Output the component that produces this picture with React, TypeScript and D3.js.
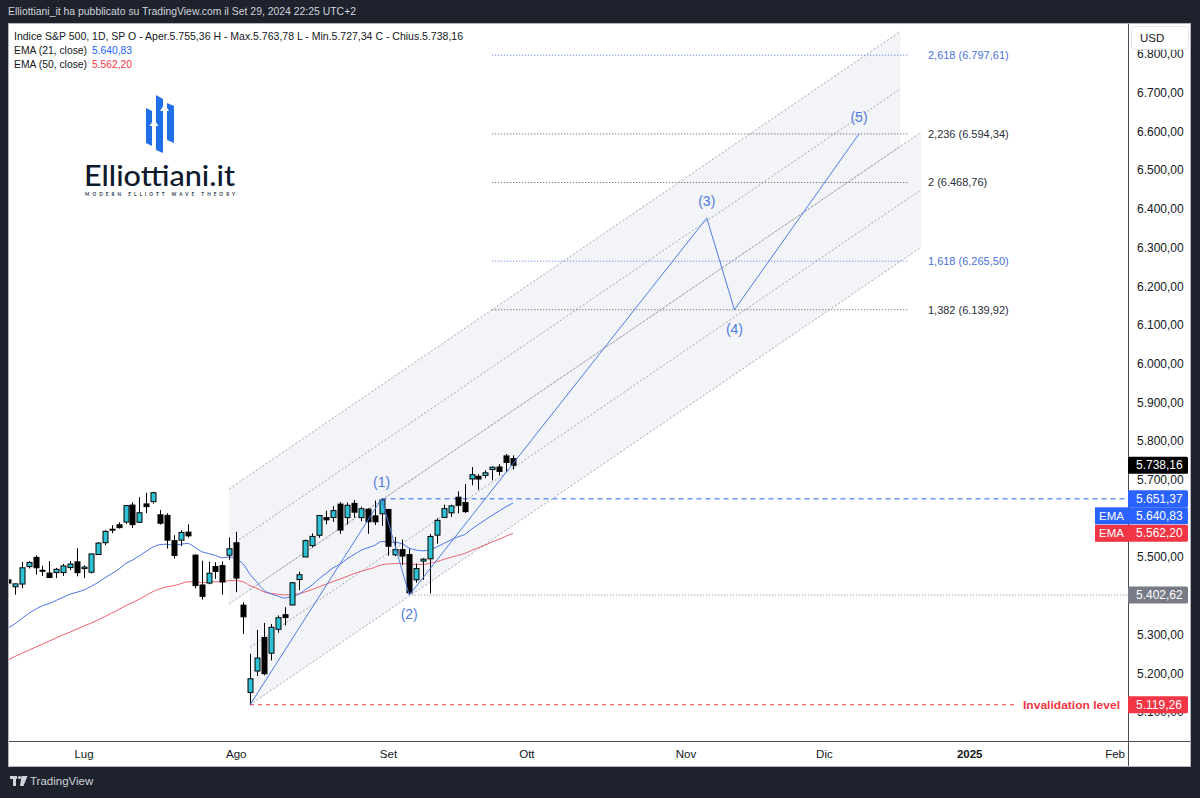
import React, { useMemo } from "react";
import * as d3 from "d3";

const W = 1200;
const H = 798;

// ---- Daily bars, S&P 500 index ----
const barDates = [
  "2024-06-13", "2024-06-14", "2024-06-17", "2024-06-18", "2024-06-20", "2024-06-21",
  "2024-06-24", "2024-06-25", "2024-06-26", "2024-06-27", "2024-06-28",
  "2024-07-01", "2024-07-02", "2024-07-03", "2024-07-05", "2024-07-08", "2024-07-09", "2024-07-10", "2024-07-11", "2024-07-12",
  "2024-07-15", "2024-07-16", "2024-07-17", "2024-07-18", "2024-07-19", "2024-07-22", "2024-07-23", "2024-07-24", "2024-07-25", "2024-07-26",
  "2024-07-29", "2024-07-30", "2024-07-31",
  "2024-08-01", "2024-08-02", "2024-08-05", "2024-08-06", "2024-08-07", "2024-08-08", "2024-08-09",
  "2024-08-12", "2024-08-13", "2024-08-14", "2024-08-15", "2024-08-16", "2024-08-19", "2024-08-20", "2024-08-21", "2024-08-22", "2024-08-23",
  "2024-08-26", "2024-08-27", "2024-08-28", "2024-08-29", "2024-08-30",
  "2024-09-03", "2024-09-04", "2024-09-05", "2024-09-06", "2024-09-09", "2024-09-10", "2024-09-11", "2024-09-12", "2024-09-13",
  "2024-09-16", "2024-09-17", "2024-09-18", "2024-09-19", "2024-09-20", "2024-09-23", "2024-09-24", "2024-09-25", "2024-09-26", "2024-09-27",
];

const opens = [
  5441.93, 5424.08, 5431.11, 5476.15, 5499.99, 5466.77, 5459.58, 5460.73, 5460.71, 5473.59, 5488.48,
  5471.08, 5461.84, 5507.44, 5537.91, 5572.75, 5584.24, 5591.26, 5635.21, 5590.76, 5638.16, 5644.09, 5610.07, 5608.56, 5543.37, 5544.54, 5565.3, 5505.84, 5428.7, 5433.67, 5476.55, 5478.73, 5505.59,
  5537.84, 5376.63, 5151.14, 5206.42, 5293.13, 5252.57, 5314.26, 5351.83, 5376.98, 5442.73, 5501.13, 5530.5, 5557.23, 5602.88, 5603.09, 5637.77, 5602.89, 5639.66, 5602.89, 5624.51, 5607.3, 5612.74,
  5623.89, 5506.68, 5520.08, 5507.33, 5442.07, 5490.51, 5496.42, 5557.48, 5603.34, 5615.21, 5655.51, 5641.68, 5702.63, 5709.58, 5711.9, 5727.05, 5733.65, 5762.22, 5755.36,
];
const highs = [
  5441.93, 5432.39, 5488.5, 5490.38, 5505.53, 5478.31, 5490.66, 5472.88, 5483.14, 5490.81, 5523.64,
  5479.55, 5509.69, 5539.27, 5570.33, 5583.11, 5590.75, 5635.39, 5642.45, 5655.56, 5666.94, 5669.67, 5622.49, 5614.05, 5557.5, 5570.36, 5585.34, 5508.04, 5491.59, 5488.66, 5487.74, 5489.46, 5551.51,
  5566.16, 5383.89, 5250.89, 5312.34, 5330.64, 5328.03, 5350.09, 5371.2, 5436.5, 5463.22, 5546.23, 5561.98, 5608.3, 5620.51, 5632.68, 5643.22, 5641.82, 5648.2, 5631.18, 5627.03, 5646.95, 5651.37,
  5623.89, 5552.99, 5546.3, 5522.47, 5484.2, 5497.91, 5560.41, 5600.71, 5636.27, 5636.05, 5670.81, 5689.75, 5733.57, 5715.14, 5725.36, 5735.32, 5741.03, 5767.37, 5763.78,
];
const lows = [
  5402.51, 5403.75, 5420.4, 5471.32, 5455.56, 5452.03, 5447.59, 5446.56, 5451.87, 5467.54, 5451.12,
  5446.53, 5458.43, 5507.42, 5531.63, 5562.51, 5574.57, 5586.44, 5576.53, 5590.44, 5614.75, 5639.02, 5584.81, 5522.81, 5497.04, 5529.04, 5550.9, 5419.98, 5390.95, 5430.7, 5444.44, 5403.75, 5493.75,
  5410.42, 5302.03, 5119.26, 5193.56, 5195.54, 5233.85, 5305.45, 5324.37, 5376.98, 5415.18, 5501.13, 5525.64, 5550.74, 5585.5, 5591.57, 5560.95, 5585.16, 5602.34, 5593.48, 5560.95, 5583.71, 5581.79,
  5504.33, 5503.66, 5480.24, 5402.62, 5434.49, 5441.72, 5406.96, 5535.5, 5601.65, 5604.53, 5614.05, 5615.08, 5686.42, 5674.49, 5704.94, 5698.99, 5712.06, 5721.01, 5727.34,
];
const closes = [
  5433.74, 5431.6, 5473.23, 5487.03, 5473.17, 5464.62, 5447.87, 5469.3, 5477.9, 5482.87, 5460.48,
  5475.09, 5509.01, 5537.02, 5567.19, 5572.85, 5576.98, 5633.91, 5584.54, 5615.35, 5631.22, 5667.2, 5588.27, 5544.59, 5505.0, 5564.41, 5555.74, 5427.13, 5399.22, 5459.1, 5463.54, 5436.44, 5522.3,
  5446.68, 5346.56, 5186.33, 5240.03, 5199.5, 5319.31, 5344.16, 5344.39, 5434.43, 5455.21, 5543.22, 5554.25, 5608.25, 5597.12, 5620.85, 5570.64, 5634.61, 5616.84, 5625.8, 5592.18, 5591.96, 5648.4,
  5528.93, 5520.07, 5503.41, 5408.42, 5471.05, 5495.52, 5554.13, 5595.76, 5626.02, 5633.09, 5634.58, 5618.26, 5713.64, 5702.55, 5718.57, 5732.93, 5722.26, 5745.37, 5738.16,
];

// Moving averages, one value per bar
const ema21 = [
  5318, 5328, 5342, 5355, 5366, 5375, 5381, 5389, 5397, 5405, 5410,
  5416, 5425, 5435, 5447, 5458, 5469, 5484, 5493, 5504, 5516, 5527, 5533, 5534, 5531, 5534, 5536, 5526, 5515, 5510, 5505, 5499, 5501,
  5496, 5483, 5456, 5436, 5415, 5406, 5400, 5395, 5399, 5404, 5417, 5429, 5445, 5459, 5473, 5482, 5496, 5507, 5518, 5525, 5531, 5541,
  5540, 5539, 5535, 5524, 5519, 5517, 5520, 5527, 5536, 5545, 5553, 5559, 5573, 5585, 5597, 5609, 5620, 5631, 5640.83,
];
const ema50 = [
  5235, 5244, 5252, 5260, 5268, 5276, 5284, 5292, 5300, 5307, 5315,
  5323, 5330, 5338, 5347, 5356, 5365, 5375, 5383, 5392, 5402, 5412, 5419, 5424, 5427, 5432, 5437, 5437, 5435, 5436, 5437, 5437, 5440,
  5440, 5437, 5427, 5420, 5411, 5407, 5405, 5403, 5404, 5406, 5411, 5417, 5424, 5431, 5438, 5444, 5451, 5458, 5464, 5469, 5474, 5481,
  5483, 5484, 5485, 5482, 5482, 5482, 5485, 5489, 5495, 5500, 5505, 5510, 5518, 5525, 5532, 5540, 5547, 5555, 5562.2,
];

// ---- Trading calendar ----
const marketHolidays = ["2024-06-19", "2024-07-04", "2024-09-02", "2024-11-28", "2024-12-25", "2025-01-01", "2025-01-20"];
const monthStarts = ["2024-07-01", "2024-08-01", "2024-09-03", "2024-10-01", "2024-11-01", "2024-12-02", "2025-01-02", "2025-02-03"];
const monthLabels = ["Lug", "Ago", "Set", "Ott", "Nov", "Dic", "2025", "Feb"];

// ---- Price axis ----
const priceTicks = [5100, 5200, 5300, 5400, 5500, 5600, 5700, 5800, 5900, 6000, 6100, 6200, 6300, 6400, 6500, 6600, 6700, 6800];

// ---- Elliott count ----
const waveDates = ["2024-08-05", "2024-08-30", "2024-09-06", "2024-11-06", "2024-11-12", "2024-12-09"];
const wavePrices = [5119.26, 5651.37, 5402.62, 6377, 6139.92, 6594.34];
const waveLabels = ["", "(1)", "(2)", "(3)", "(4)", "(5)"];

// ---- Fibonacci extension ----
const fibRatios = [2.618, 2.236, 2, 1.618, 1.382];
const fibPrices = [6797.61, 6594.34, 6468.76, 6265.5, 6139.92];
const fibStart = "2024-09-24";
const fibEnd = "2024-12-18";

// ---- Parallel channels ----
const channelStarts = ["2024-07-31", "2024-08-05"];
const channelEnds = ["2024-12-17", "2024-12-20"];
const channelBaseStart = [5379.9, 5119.26];
const channelBaseEnd = [6562.3, 6301.7];
const channelWidth = [297.2, 297.2];

// ---- Horizontal levels ----
const levelPrices = [5651.37, 5402.62, 5119.26];
const levelStarts = ["2024-08-30", "2024-09-06", "2024-08-05"];

const lastClose = 5738.16;
const ema21Last = 5640.83;
const ema50Last = 5562.2;

const it = d3.formatLocale({ decimal: ",", thousands: ".", grouping: [3], currency: ["", ""] });
const fmtPrice = it.format(",.2f");
const fmtRatio = it.format(",");

const BLUE = "#2962ff";
const RED = "#f23645";
const WAVE = "#4f7be3";
const INK = "#131722";
const FONT = "'Liberation Sans', Arial, sans-serif";

const PLOT = { left: 8, right: 1128, top: 23, bottom: 741 };
const PANEL = { left: 8, right: 1191, top: 23, bottom: 767 };

export default function App() {
  const calendar = useMemo(() => {
    const fmt = d3.timeFormat("%Y-%m-%d");
    const hol = new Set(marketHolidays);
    const days = d3.timeDay
      .range(new Date(2024, 5, 10), new Date(2025, 2, 15))
      .filter((d) => d.getDay() !== 0 && d.getDay() !== 6)
      .map(fmt)
      .filter((k) => !hol.has(k));
    const origin = days.indexOf("2024-07-01");
    const m = new Map<string, number>();
    days.forEach((k, i) => m.set(k, i - origin));
    return m;
  }, []);

  const bar = (d: string) => calendar.get(d) as number;

  const x = d3.scaleLinear().domain([-10.98, 150.87]).range([PLOT.left, PLOT.right]);
  const y = d3.scaleLinear().domain([5100, 6800]).range([712.2, 54.3]);
  const xd = (d: string) => x(bar(d));

  const bodyW = 5;

  const emaLine = (vals: number[]) =>
    d3
      .line<number>()
      .x((_, i) => xd(barDates[i]))
      .y((v) => y(v))
      .curve(d3.curveMonotoneX)(vals) || "";

  const wavePath =
    d3
      .line<number>()
      .x((_, i) => xd(waveDates[i]))
      .y((v) => y(v))(wavePrices) || "";

  // right-axis price tags, stacked so they do not overlap
  const tags = [
    { v: lastClose, bg: "#000000", ema: false },
    { v: levelPrices[0], bg: BLUE, ema: false },
    { v: ema21Last, bg: BLUE, ema: true },
    { v: ema50Last, bg: RED, ema: true },
    { v: levelPrices[1], bg: "#787b86", ema: false },
    { v: levelPrices[2], bg: RED, ema: false },
  ]
    .map((t) => ({ ...t, cy: y(t.v) }))
    .sort((a, b) => a.cy - b.cy);
  const TAG_H = 17;
  for (let i = 1; i < tags.length; i++) {
    if (tags[i].cy < tags[i - 1].cy + TAG_H) tags[i].cy = tags[i - 1].cy + TAG_H;
  }
  // axis labels sitting squarely behind a tag are not drawn
  const visibleTicks = priceTicks.filter((p) => tags.every((t) => Math.abs(t.cy - y(p)) > 5));

  const invalidX = 1120;

  return (
    <div style={{ position: "fixed", left: 0, top: 0, width: W, height: H, background: "#1e222d" }}>
      <svg width={W} height={H} style={{ display: "block" }} fontFamily={FONT}>
        <defs>
          <clipPath id="plotClip">
            <rect x={PLOT.left} y={PLOT.top} width={PLOT.right - PLOT.left} height={PLOT.bottom - PLOT.top} />
          </clipPath>
        </defs>

        {/* header */}
        <rect x={0} y={0} width={W} height={H} fill="#1e222d" />
        <text x={8} y={11} dominantBaseline="central" fontSize={11.5} fill="#d1d4dc" textLength={348} lengthAdjust="spacingAndGlyphs">
          Elliottiani_it ha pubblicato su TradingView.com il Set 29, 2024 22:25 UTC+2
        </text>

        {/* chart panel */}
        <rect x={PANEL.left} y={PANEL.top} width={PANEL.right - PANEL.left} height={PANEL.bottom - PANEL.top} fill="#ffffff" />

        <g clipPath="url(#plotClip)">
          {/* channel shading */}
          {channelStarts.map((s, i) => {
            const x0 = xd(s);
            const x1 = xd(channelEnds[i]);
            const b0 = channelBaseStart[i];
            const b1 = channelBaseEnd[i];
            const w = channelWidth[i];
            return (
              <polygon
                key={"cf" + i}
                points={`${x0},${y(b0)} ${x1},${y(b1)} ${x1},${y(b1 + w)} ${x0},${y(b0 + w)}`}
                fill="#f3f4f7"
              />
            );
          })}

          {/* channel lines */}
          {channelStarts.map((s, i) => {
            const x0 = xd(s);
            const x1 = xd(channelEnds[i]);
            return [0, 0.5, 1].map((f) => (
              <line
                key={"cl" + i + f}
                x1={x0}
                x2={x1}
                y1={y(channelBaseStart[i] + f * channelWidth[i])}
                y2={y(channelBaseEnd[i] + f * channelWidth[i])}
                stroke="#a3a6af"
                strokeWidth={1}
                strokeDasharray="2,2"
              />
            ));
          })}

          {/* horizontal levels */}
          <line x1={xd(levelStarts[0])} x2={PLOT.right} y1={y(levelPrices[0])} y2={y(levelPrices[0])} stroke={BLUE} strokeDasharray="5,4" />
          <line x1={xd(levelStarts[1])} x2={PLOT.right} y1={y(levelPrices[1])} y2={y(levelPrices[1])} stroke="#787b86" strokeDasharray="1,2" />
          <line x1={xd(levelStarts[2])} x2={invalidX - 106} y1={y(levelPrices[2])} y2={y(levelPrices[2])} stroke={RED} strokeDasharray="4,4" />
          <text x={invalidX} y={y(levelPrices[2])} dominantBaseline="central" textAnchor="end" fontSize={11.5} fontWeight={700} fill={RED} textLength={97} lengthAdjust="spacingAndGlyphs">
            Invalidation level
          </text>

          {/* fibonacci extension levels */}
          {fibRatios.map((r, i) => {
            const blue = r === 2.618 || r === 1.618;
            const col = blue ? "#4f74e0" : "#50535e";
            const yy = y(fibPrices[i]);
            return (
              <g key={"fib" + i}>
                <line x1={xd(fibStart)} x2={xd(fibEnd)} y1={yy} y2={yy} stroke={col} strokeDasharray="1,2" />
                <text x={xd(fibEnd) + 20.5} y={yy} dominantBaseline="central" fontSize={11} fill={blue ? "#4a6fdc" : "#2a2e39"}>
                  {`${fmtRatio(r)} (${fmtPrice(fibPrices[i])})`}
                </text>
              </g>
            );
          })}

          {/* moving averages */}
          <path d={emaLine(ema50)} fill="none" stroke="#f0606e" strokeWidth={1} />
          <path d={emaLine(ema21)} fill="none" stroke="#4a72e8" strokeWidth={1} />

          {/* candles */}
          {barDates.map((d, i) => {
            const cx = Math.round(xd(d)) + 0.5;
            const o = opens[i];
            const c = closes[i];
            const up = c >= o;
            const top = y(Math.max(o, c));
            const bot = y(Math.min(o, c));
            return (
              <g key={d}>
                <line x1={cx} x2={cx} y1={y(highs[i])} y2={y(lows[i])} stroke="#000" strokeWidth={1} />
                <rect
                  x={cx - bodyW / 2}
                  y={top}
                  width={bodyW}
                  height={Math.max(1, bot - top)}
                  fill={up ? "#2ec2d6" : "#000"}
                  stroke="#000"
                  strokeWidth={1}
                />
              </g>
            );
          })}

          {/* wave path and labels */}
          <path d={wavePath} fill="none" stroke={WAVE} strokeWidth={1} />
          {waveLabels.map((lab, i) => {
            if (!lab) return null;
            const above = i % 2 === 1;
            return (
              <text
                key={"w" + i}
                x={xd(waveDates[i])}
                y={y(wavePrices[i]) + (above ? -17 : 19)}
                textAnchor="middle"
                dominantBaseline="central"
                fontSize={14}
                fill={WAVE}
              >
                {lab}
              </text>
            );
          })}
        </g>

        {/* legend */}
        <text x={14} y={36} dominantBaseline="central" fontSize={11} fill={INK} textLength={449} lengthAdjust="spacingAndGlyphs">
          {`Indice S&P 500, 1D, SP  O - Aper.${fmtPrice(opens[opens.length - 1])}  H - Max.${fmtPrice(highs[highs.length - 1])}  L - Min.${fmtPrice(lows[lows.length - 1])}  C - Chius.${fmtPrice(closes[closes.length - 1])}`}
        </text>
        <text x={14} y={50} dominantBaseline="central" fontSize={11} fill={INK} textLength={73} lengthAdjust="spacingAndGlyphs">EMA (21, close)</text>
        <text x={92} y={50} dominantBaseline="central" fontSize={11} fill={BLUE} textLength={40} lengthAdjust="spacingAndGlyphs">{fmtPrice(ema21Last)}</text>
        <text x={14} y={64} dominantBaseline="central" fontSize={11} fill={INK} textLength={73} lengthAdjust="spacingAndGlyphs">EMA (50, close)</text>
        <text x={92} y={64} dominantBaseline="central" fontSize={11} fill={RED} textLength={40} lengthAdjust="spacingAndGlyphs">{fmtPrice(ema50Last)}</text>

        {/* brand mark */}
        <g fill="#1f6fe8">
          <polygon points="146,108 152,111 152,146 146,143" />
          <polygon points="156,95 163,99 163,153 156,150" />
          <polygon points="167,103 174,106 174,143 167,140" />
        </g>
        <g fill="#ffffff">
          <polygon points="154,119 158.5,126 149.5,126" />
          <rect x={153} y={125} width={2.2} height={22} />
          <polygon points="164.5,104 169,111 160,111" />
          <rect x={163.4} y={110} width={2.2} height={42} />
        </g>
        <text x={84} y={186} fontSize={28} fontFamily="Lato, 'Open Sans', sans-serif" fontWeight={500} fill="#0c1a2c" textLength={151} lengthAdjust="spacingAndGlyphs">
          Elliottiani.it
        </text>
        <text x={85} y={196} fontSize={4.6} fontFamily="Lato, sans-serif" fontWeight={700} fill="#2a3444" textLength={150} lengthAdjust="spacing">
          MODERN ELLIOTT WAVE THEORY
        </text>

        {/* price axis */}
        <line x1={PLOT.right + 0.5} x2={PLOT.right + 0.5} y1={PANEL.top} y2={PANEL.bottom} stroke="#4a4d58" />
        {visibleTicks.map((p) => (
          <text key={"pt" + p} x={1137} y={y(p)} dominantBaseline="central" fontSize={12} fill={INK}>
            {fmtPrice(p)}
          </text>
        ))}
        <rect x={1131.5} y={26.5} width={57} height={23} rx={3} fill="#ffffff" stroke="#e0e3eb" />
        <text x={1140} y={38} dominantBaseline="central" fontSize={11.5} fill={INK}>USD</text>

        {tags.map((t, i) => (
          <g key={"tag" + i}>
            <rect x={1128} y={t.cy - TAG_H / 2} width={60} height={TAG_H} rx={1.5} fill={t.bg} />
            <text x={1136} y={t.cy} dominantBaseline="central" fontSize={12} fill="#ffffff">
              {fmtPrice(t.v)}
            </text>
            {t.ema && (
              <g>
                <rect x={1095} y={t.cy - TAG_H / 2} width={33} height={TAG_H} fill={t.bg} />
                <text x={1111.5} y={t.cy} textAnchor="middle" dominantBaseline="central" fontSize={11.5} fill="#ffffff">
                  EMA
                </text>
              </g>
            )}
          </g>
        ))}

        {/* time axis */}
        <line x1={PANEL.left} x2={PANEL.right} y1={PLOT.bottom + 0.5} y2={PLOT.bottom + 0.5} stroke="#4a4d58" />
        {monthStarts.map((d, i) => (
          <text
            key={"m" + d}
            x={xd(d)}
            y={754}
            textAnchor="middle"
            dominantBaseline="central"
            fontSize={11.5}
            fontWeight={monthLabels[i] === "2025" ? 700 : 400}
            fill={INK}
          >
            {monthLabels[i]}
          </text>
        ))}
        <rect x={PANEL.left + 0.5} y={PANEL.top + 0.5} width={PANEL.right - PANEL.left - 1} height={PANEL.bottom - PANEL.top - 1} fill="none" stroke="#b2b5be" />

        {/* footer */}
        <g fill="#d1d4dc">
          <rect x={10} y={776} width={7} height={3} />
          <rect x={13} y={776} width={3} height={10} />
          <circle cx={19.5} cy={777.5} r={1.6} />
          <polygon points="21.5,776 27.5,776 23.5,786 20,786" />
        </g>
        <text x={30} y={781} dominantBaseline="central" fontSize={11.5} fill="#d1d4dc">TradingView</text>
      </svg>
    </div>
  );
}
